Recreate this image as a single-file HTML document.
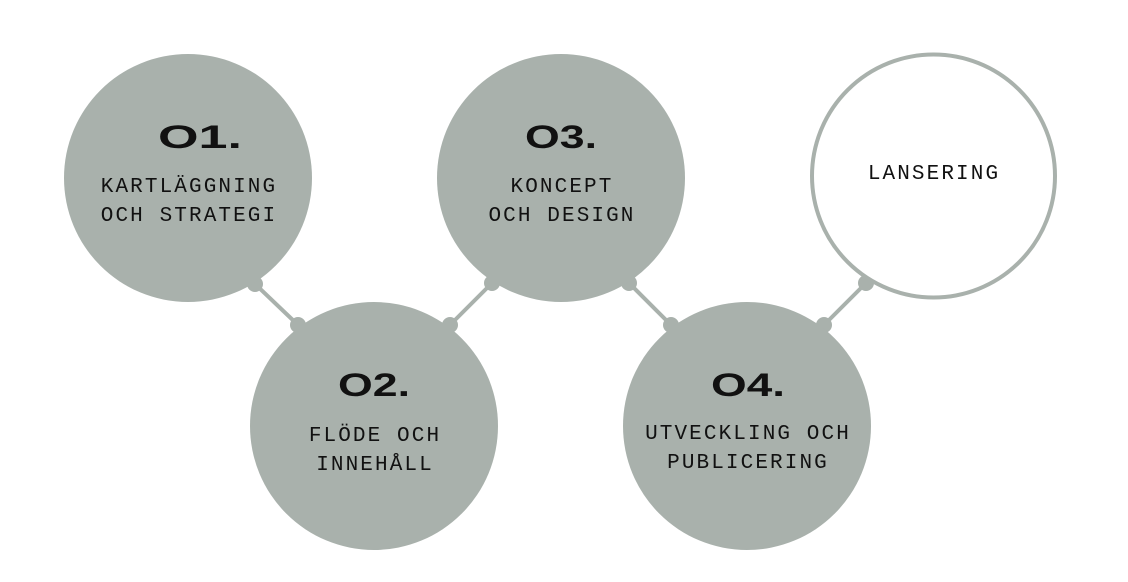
<!DOCTYPE html>
<html><head><meta charset="utf-8"><style>
html,body{margin:0;padding:0;background:#fff;width:1128px;height:582px;overflow:hidden}
.n{font-family:"Liberation Sans",sans-serif;font-weight:bold;font-size:32px;fill:#111}
.t{font-family:"Liberation Mono",monospace;font-size:21px;fill:#111;letter-spacing:2.1px}
</style></head><body>
<svg width="1128" height="582" viewBox="0 0 1128 582">
<g fill="#a9b1ac" stroke="#a9b1ac">
<line x1="255" y1="284" x2="298" y2="325" stroke-width="4"/>
<line x1="450" y1="325" x2="492" y2="283" stroke-width="4"/>
<line x1="629" y1="283" x2="671" y2="325" stroke-width="4"/>
<line x1="824" y1="325" x2="866" y2="283" stroke-width="4"/>
<circle cx="255" cy="284" r="8" stroke="none"/>
<circle cx="298" cy="325" r="8" stroke="none"/>
<circle cx="450" cy="325" r="8" stroke="none"/>
<circle cx="492" cy="283" r="8" stroke="none"/>
<circle cx="629" cy="283" r="8" stroke="none"/>
<circle cx="671" cy="325" r="8" stroke="none"/>
<circle cx="824" cy="325" r="8" stroke="none"/>
<circle cx="866" cy="283" r="8" stroke="none"/>
<circle cx="188" cy="178" r="124" stroke="none"/>
<circle cx="374" cy="426" r="124" stroke="none"/>
<circle cx="561" cy="178" r="124" stroke="none"/>
<circle cx="747" cy="426" r="124" stroke="none"/>
</g>
<circle cx="933.5" cy="176" r="121.5" fill="#fff" stroke="#a9b1ac" stroke-width="4"/>
<text class="n" x="158" y="148" textLength="84" lengthAdjust="spacingAndGlyphs">O1.</text>
<text class="n" x="338" y="396" textLength="72" lengthAdjust="spacingAndGlyphs">O2.</text>
<text class="n" x="525" y="148" textLength="72" lengthAdjust="spacingAndGlyphs">O3.</text>
<text class="n" x="711" y="396" textLength="74" lengthAdjust="spacingAndGlyphs">O4.</text>
<g text-anchor="middle">
<text class="t" x="189" y="192">KARTLÄGGNING</text>
<text class="t" x="189" y="221">OCH STRATEGI</text>
<text class="t" x="375" y="441">FLÖDE OCH</text>
<text class="t" x="375" y="470">INNEHÅLL</text>
<text class="t" x="562" y="192">KONCEPT</text>
<text class="t" x="562" y="221">OCH DESIGN</text>
<text class="t" x="748" y="439">UTVECKLING OCH</text>
<text class="t" x="748" y="468">PUBLICERING</text>
<text class="t" x="934" y="179">LANSERING</text>
</g>
</svg>
</body></html>
